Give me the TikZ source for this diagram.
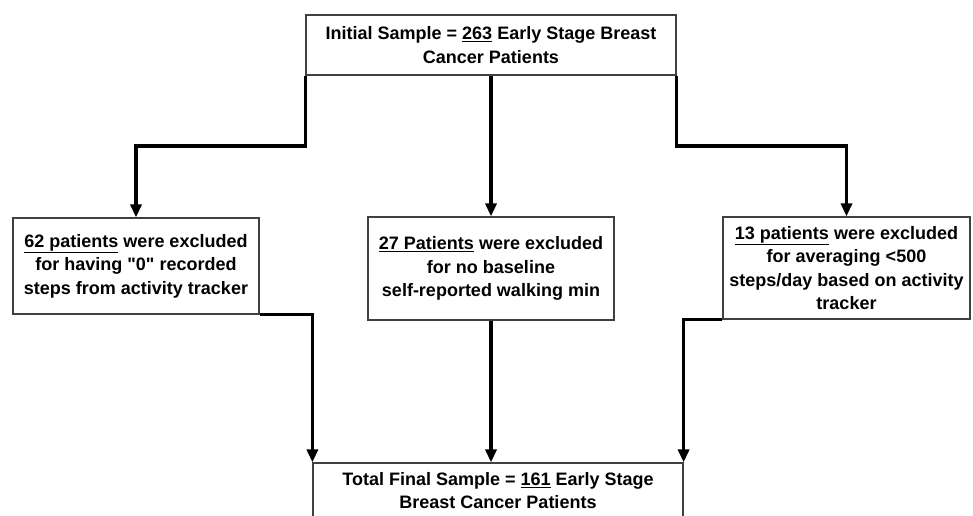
\documentclass[tikz,border=0pt]{standalone}
\usepackage{fontspec}
\setmainfont{Liberation Sans}[Ligatures=TeXOff]
\usetikzlibrary{arrows.meta}
\begin{document}
\begin{tikzpicture}[x=1pt,y=-1pt,
  box/.style={draw=black!75, line width=1.2pt, fill=white, align=center, inner sep=0pt,
    font=\fontsize{18}{23.5}\selectfont\bfseries},
  conn/.style={line width=3.2pt, line join=miter, -{Triangle[width=11pt,length=13pt]}}]
\useasboundingbox (0,0) rectangle (973,515);
\clip (0,0) rectangle (973,515);
\fill[white] (0,0) rectangle (973,515);
\node[box, minimum width=370pt, minimum height=60pt] (top) at (491,45)
  {Initial Sample = \underline{263} Early Stage Breast\\Cancer Patients};
\node[box, minimum width=246pt, minimum height=96pt] (left) at (136,266)
  {\underline{62 patients} were excluded\\for having \char34 0\char34\ recorded\\steps from activity tracker};
\node[box, minimum width=246pt, minimum height=103pt] (mid) at (491,268.5)
  {\underline{27 Patients} were excluded\\for no baseline\\self-reported walking min};
\node[box, minimum width=247pt, minimum height=102pt] (right) at (846.5,268)
  {\underline{13 patients} were excluded\\for averaging <500\\steps/day based on activity\\tracker};
\node[box, minimum width=370pt, minimum height=55pt] (bot) at (498,490.5)
  {Total Final Sample = \underline{161} Early Stage\\Breast Cancer Patients};
\coordinate (midy) at (0,146);
\draw[conn] (top.south west) -- (top.south west |- midy) -| (left.north);
\draw[conn] (top.south) -- (mid.north);
\draw[conn] (top.south east) -- (top.south east |- midy) -| (right.north);
\draw[conn] (left.south east) -| (bot.north west);
\draw[conn] (mid.south) -- (mid.south |- bot.north);
\draw[conn] (right.south west) -| (bot.north east);
\end{tikzpicture}
\end{document}
